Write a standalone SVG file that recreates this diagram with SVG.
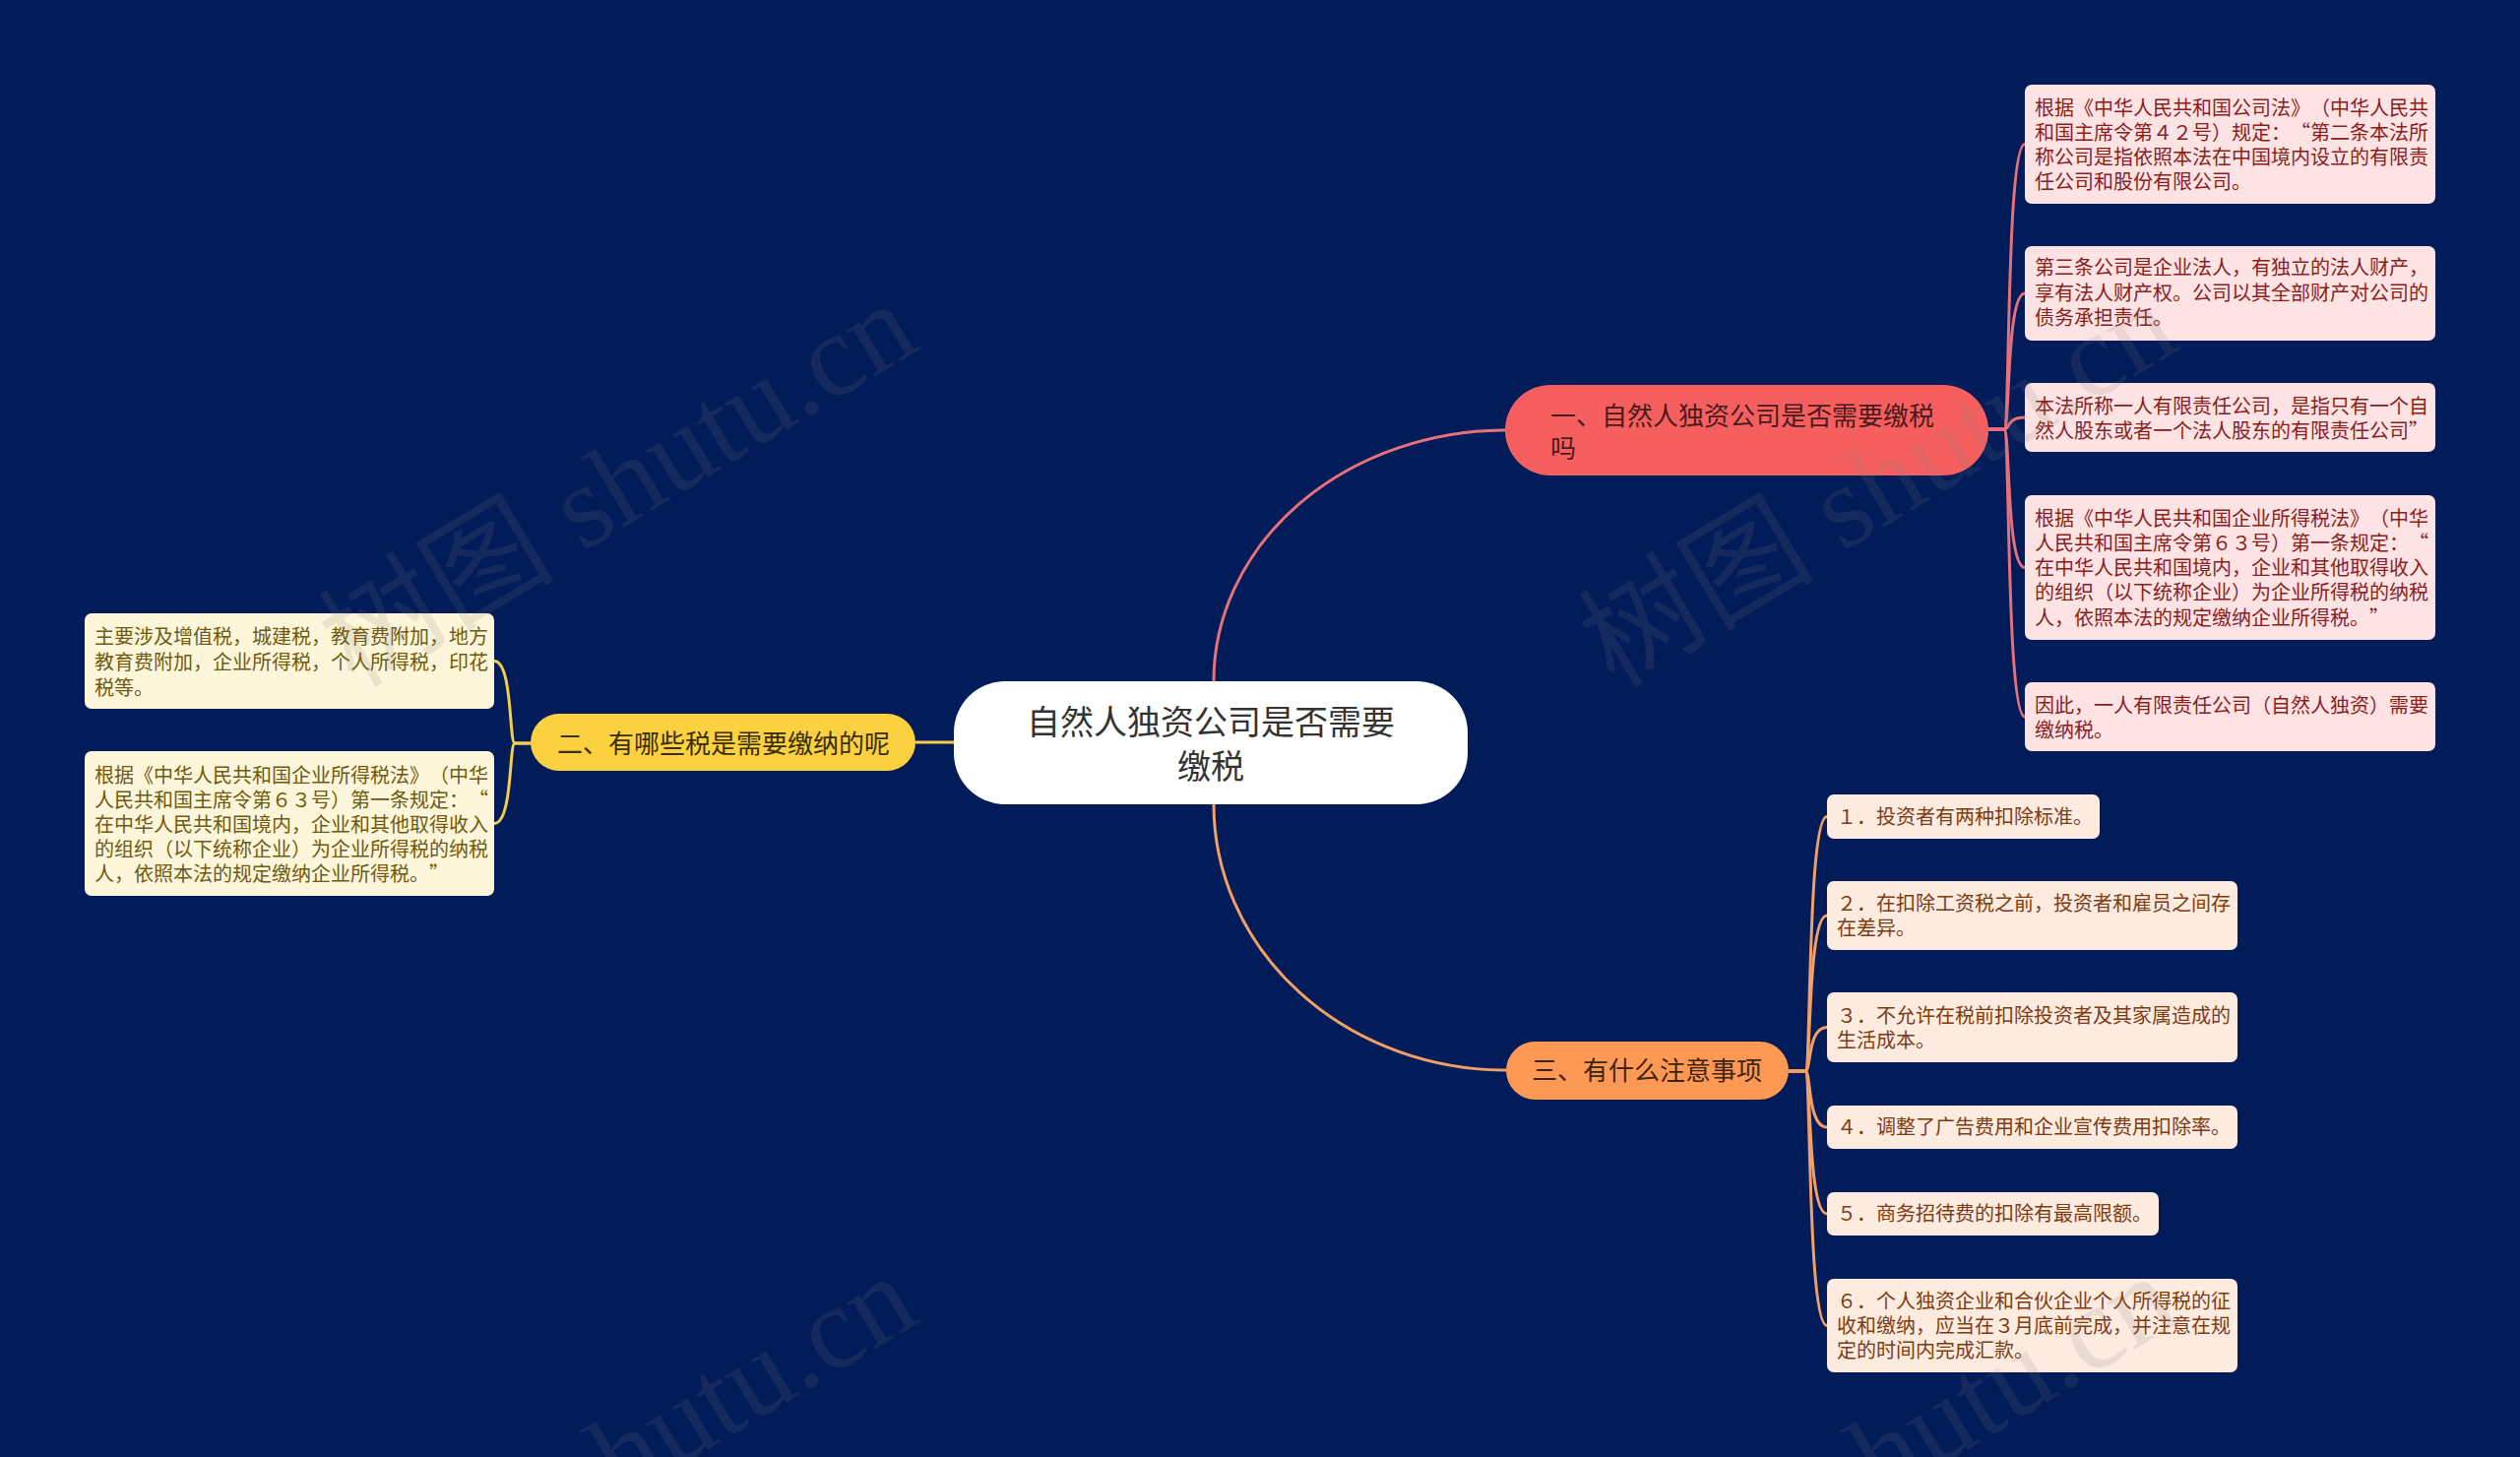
<svg xmlns="http://www.w3.org/2000/svg" width="2560" height="1480" viewBox="0 0 2560 1480">
<style>
text{font-family:"Noto Sans CJK SC","Noto Sans",sans-serif;text-spacing-trim:space-all}
.leaf{font-size:20px;font-feature-settings:"fwid" 1}
.rl{fill:#fde3e3}.rt{fill:#8a1d1d}
.yl{fill:#fef6da}.yt{fill:#6f5a10}
.ol{fill:#fdebe0}.ot{fill:#7e3b12}
.br{font-size:26px}
.con{fill:none;stroke-width:3}
.cr{stroke:#e6717a}.cy{stroke:#f2d04c}.co{stroke:#f3a067}
.wm{font-family:"Liberation Serif","Noto Sans CJK SC",serif;font-size:120px;fill:#808080;fill-opacity:0.15}
</style>
<rect width="2560" height="1480" fill="#021c59"/>
<g id="connectors">
<path class="con cr" d="M1233 692 A297 255 0 0 1 1530 437"/>
<path class="con co" d="M1233 817 A297 270 0 0 0 1530 1087"/>
<path class="con cy" d="M969 754 L930 754"/>
<path class="con cr" d="M2020 436 H2036 C2042 436 2038 146.5 2057 146.5"/>
<path class="con cr" d="M2020 436 H2036 C2042 436 2038 298 2057 298"/>
<path class="con cr" d="M2020 436 H2036 C2042 436 2038 424 2057 424"/>
<path class="con cr" d="M2020 436 H2036 C2042 436 2038 576.5 2057 576.5"/>
<path class="con cr" d="M2020 436 H2036 C2042 436 2038 728 2057 728"/>
<path class="con cy" d="M539 755 H523 C517 755 521 671.5 502 671.5"/>
<path class="con cy" d="M539 755 H523 C517 755 521 836.5 502 836.5"/>
<path class="con co" d="M1817 1088 H1834 C1840 1088 1836 829.5 1856 829.5"/>
<path class="con co" d="M1817 1088 H1834 C1840 1088 1836 930 1856 930"/>
<path class="con co" d="M1817 1088 H1834 C1840 1088 1836 1043.5 1856 1043.5"/>
<path class="con co" d="M1817 1088 H1834 C1840 1088 1836 1145 1856 1145"/>
<path class="con co" d="M1817 1088 H1834 C1840 1088 1836 1233 1856 1233"/>
<path class="con co" d="M1817 1088 H1834 C1840 1088 1836 1346.5 1856 1346.5"/>
</g>
<g id="center">
<rect x="969" y="692" width="522" height="125" rx="52" fill="#ffffff"/>
<text x="1230" font-size="34" fill="#333333" text-anchor="middle"><tspan x="1230" y="746">自然人独资公司是否需要</tspan><tspan x="1230" y="791">缴税</tspan></text>
</g>
<g id="branch1">
<rect x="1529" y="391" width="491" height="92" rx="46" fill="#f65f5f"/>
<text class="br" fill="#4a1a1a"><tspan x="1575" y="432">一、自然人独资公司是否需要缴税</tspan><tspan x="1575" y="465">吗</tspan></text>
</g>
<g id="branch2">
<rect x="539" y="725" width="391" height="58" rx="29" fill="#fcd13f"/>
<text class="br" fill="#3a2e05" x="735" y="765" text-anchor="middle">二、有哪些税是需要缴纳的呢</text>
</g>
<g id="branch3">
<rect x="1530" y="1058" width="287" height="59" rx="29.5" fill="#fd9955"/>
<text class="br" fill="#3d2410" x="1673" y="1097" text-anchor="middle">三、有什么注意事项</text>
</g>
<g id="r1">
<rect class="rl" x="2057" y="86" width="417" height="121" rx="7"/>
<text class="leaf rt"><tspan x="2067" y="117">根据《中华人民共和国公司法》（中华人民共</tspan><tspan x="2067" y="142">和国主席令第４２号）规定：“第二条本法所</tspan><tspan x="2067" y="167">称公司是指依照本法在中国境内设立的有限责</tspan><tspan x="2067" y="192">任公司和股份有限公司。</tspan></text>
</g>
<g id="r2">
<rect class="rl" x="2057" y="250" width="417" height="96" rx="7"/>
<text class="leaf rt"><tspan x="2067" y="279">第三条公司是企业法人，有独立的法人财产，</tspan><tspan x="2067" y="305">享有法人财产权。公司以其全部财产对公司的</tspan><tspan x="2067" y="330">债务承担责任。</tspan></text>
</g>
<g id="r3">
<rect class="rl" x="2057" y="389" width="417" height="70" rx="7"/>
<text class="leaf rt"><tspan x="2067" y="420">本法所称一人有限责任公司，是指只有一个自</tspan><tspan x="2067" y="445">然人股东或者一个法人股东的有限责任公司”</tspan></text>
</g>
<g id="r4">
<rect class="rl" x="2057" y="503" width="417" height="147" rx="7"/>
<text class="leaf rt"><tspan x="2067" y="534">根据《中华人民共和国企业所得税法》（中华</tspan><tspan x="2067" y="559">人民共和国主席令第６３号）第一条规定：“</tspan><tspan x="2067" y="584">在中华人民共和国境内，企业和其他取得收入</tspan><tspan x="2067" y="609">的组织（以下统称企业）为企业所得税的纳税</tspan><tspan x="2067" y="635">人，依照本法的规定缴纳企业所得税。”</tspan></text>
</g>
<g id="r5">
<rect class="rl" x="2057" y="693" width="417" height="70" rx="7"/>
<text class="leaf rt"><tspan x="2067" y="724">因此，一人有限责任公司（自然人独资）需要</tspan><tspan x="2067" y="749">缴纳税。</tspan></text>
</g>
<g id="y1">
<rect class="yl" x="86" y="623" width="416" height="97" rx="7"/>
<text class="leaf yt"><tspan x="96" y="654">主要涉及增值税，城建税，教育费附加，地方</tspan><tspan x="96" y="680">教育费附加，企业所得税，个人所得税，印花</tspan><tspan x="96" y="706">税等。</tspan></text>
</g>
<g id="y2">
<rect class="yl" x="86" y="763" width="416" height="147" rx="7"/>
<text class="leaf yt"><tspan x="96" y="795">根据《中华人民共和国企业所得税法》（中华</tspan><tspan x="96" y="820">人民共和国主席令第６３号）第一条规定：“</tspan><tspan x="96" y="845">在中华人民共和国境内，企业和其他取得收入</tspan><tspan x="96" y="870">的组织（以下统称企业）为企业所得税的纳税</tspan><tspan x="96" y="895">人，依照本法的规定缴纳企业所得税。”</tspan></text>
</g>
<g id="o1">
<rect class="ol" x="1856" y="807" width="277" height="45" rx="7"/>
<text class="leaf ot" x="1866" y="837">１．投资者有两种扣除标准。</text>
</g>
<g id="o2">
<rect class="ol" x="1856" y="895" width="417" height="70" rx="7"/>
<text class="leaf ot"><tspan x="1866" y="925">２．在扣除工资税之前，投资者和雇员之间存</tspan><tspan x="1866" y="950">在差异。</tspan></text>
</g>
<g id="o3">
<rect class="ol" x="1856" y="1008" width="417" height="71" rx="7"/>
<text class="leaf ot"><tspan x="1866" y="1039">３．不允许在税前扣除投资者及其家属造成的</tspan><tspan x="1866" y="1064">生活成本。</tspan></text>
</g>
<g id="o4">
<rect class="ol" x="1856" y="1123" width="417" height="44" rx="7"/>
<text class="leaf ot" x="1866" y="1152">４．调整了广告费用和企业宣传费用扣除率。</text>
</g>
<g id="o5">
<rect class="ol" x="1856" y="1211" width="337" height="44" rx="7"/>
<text class="leaf ot" x="1866" y="1240">５．商务招待费的扣除有最高限额。</text>
</g>
<g id="o6">
<rect class="ol" x="1856" y="1299" width="417" height="95" rx="7"/>
<text class="leaf ot"><tspan x="1866" y="1329">６．个人独资企业和合伙企业个人所得税的征</tspan><tspan x="1866" y="1354">收和缴纳，应当在３月底前完成，并注意在规</tspan><tspan x="1866" y="1379">定的时间内完成汇款。</tspan></text>
</g>
<g id="watermarks">
<text class="wm" x="360" y="700" transform="rotate(-31 360 700)">树图 shutu.cn</text>
<text class="wm" x="1640" y="700" transform="rotate(-31 1640 700)">树图 shutu.cn</text>
<text class="wm" x="360" y="1688" transform="rotate(-31 360 1688)">树图 shutu.cn</text>
<text class="wm" x="1640" y="1688" transform="rotate(-31 1640 1688)">树图 shutu.cn</text>
</g>
</svg>
